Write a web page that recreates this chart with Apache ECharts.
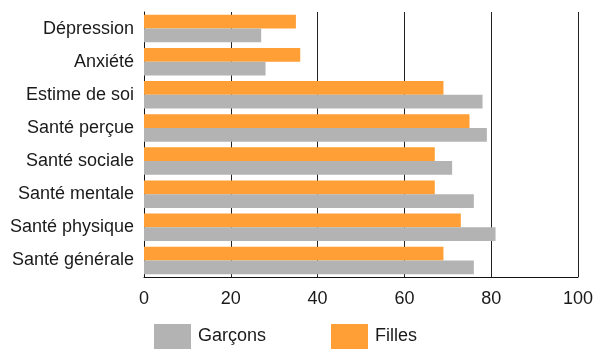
<!DOCTYPE html>
<html>
<head>
<meta charset="utf-8">
<script src="https://cdn.jsdelivr.net/npm/echarts@6/dist/echarts.min.js"></script>
<style>
  html, body { margin: 0; padding: 0; background: #fff; }
  #chart { width: 595px; height: 349px; }
</style>
</head>
<body>
<div id="chart"></div>
<script>
// Indicators, listed from the bottom row to the top row
const categories = ['Santé générale', 'Santé physique', 'Santé mentale', 'Santé sociale',
                    'Santé perçue', 'Estime de soi', 'Anxiété', 'Dépression'];
const garcons = [76, 81, 76, 71, 79, 78, 28, 27];
const filles  = [69, 73, 67, 67, 75, 69, 36, 35];
const xTicks = [0, 20, 40, 60, 80, 100];

const FONT = '"Liberation Sans", Arial, sans-serif';
const TEXT = '#1a1a1a';
const GREY = '#b3b3b3';
const ORANGE = '#ff9f35';
const SIZE = 18;

const chart = echarts.init(document.getElementById('chart'), null, { renderer: 'canvas' });

const legendItem = (name, left) => ({
  data: [name], left: left, top: 324, padding: 0,
  itemWidth: 37, itemHeight: 25, itemGap: 0, icon: 'rect',
  textStyle: { fontFamily: FONT, fontSize: SIZE, color: TEXT, padding: [0, 0, 0, 2] }
});

chart.setOption({
  animation: false,
  backgroundColor: '#fff',
  textStyle: { fontFamily: FONT, color: TEXT },
  grid: { left: 144, right: 17, top: 12, bottom: 72, containLabel: false, outerBoundsMode: 'none' },
  legend: [legendItem('Garçons', 154), legendItem('Filles', 331)],
  xAxis: {
    type: 'value',
    min: xTicks[0],
    max: xTicks[xTicks.length - 1],
    interval: 20,
    axisLine: { show: true, lineStyle: { color: '#111', width: 1 } },
    axisTick: { show: false },
    axisLabel: {
      fontFamily: FONT, fontSize: SIZE, color: TEXT, margin: 13,
      formatter: v => xTicks.includes(v) ? String(v) : ''
    },
    splitLine: { show: true, lineStyle: { color: '#222', width: 1 } }
  },
  yAxis: {
    type: 'category',
    data: categories,
    axisLine: { show: true, onZero: false, lineStyle: { color: '#111', width: 1 } },
    axisTick: { show: false },
    axisLabel: { fontFamily: FONT, fontSize: SIZE, color: TEXT, margin: 10 },
    splitLine: { show: false }
  },
  // Within each row the first series is drawn on top
  series: [
    {
      name: 'Filles', type: 'bar', data: filles,
      itemStyle: { color: ORANGE },
      barGap: '0%', barCategoryGap: '17%'
    },
    {
      name: 'Garçons', type: 'bar', data: garcons,
      itemStyle: { color: GREY },
      barGap: '0%', barCategoryGap: '17%'
    }
  ]
});
</script>
</body>
</html>
